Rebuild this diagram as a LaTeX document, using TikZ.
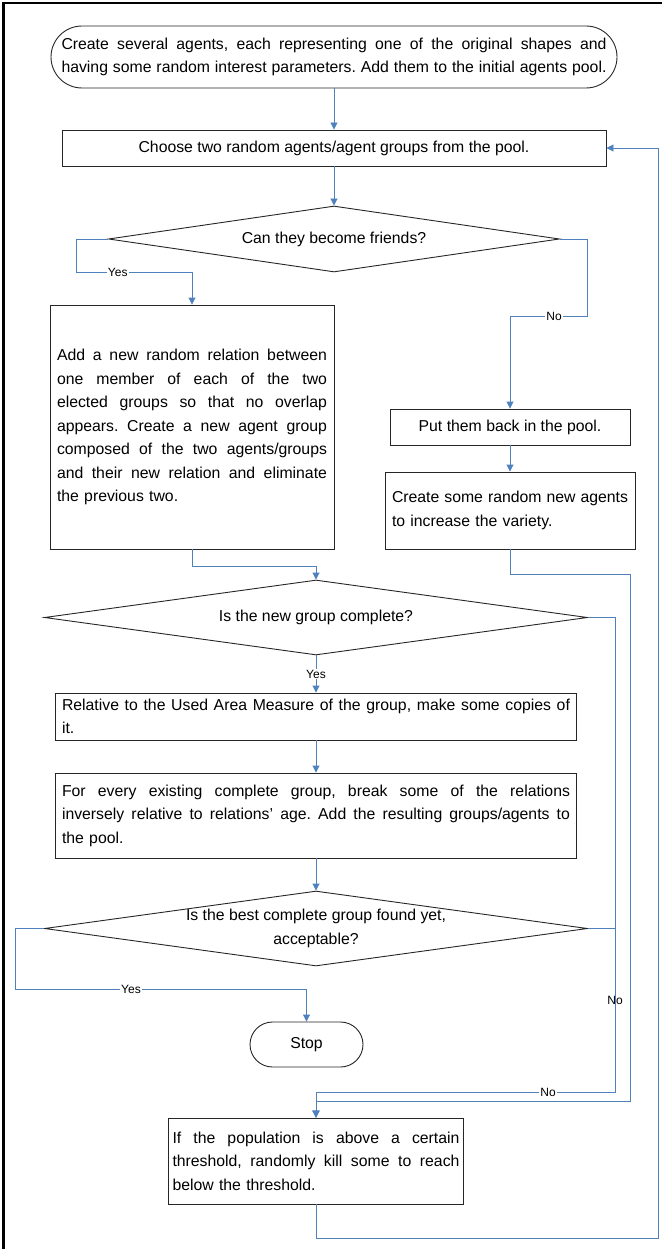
\documentclass[tikz,border=0pt]{standalone}
\usepackage{fontspec}
\setmainfont{Liberation Sans}
\usetikzlibrary{shapes.geometric,arrows.meta}
\frenchspacing
\definecolor{flow}{RGB}{79,129,189}
\definecolor{edge}{RGB}{38,38,38}
\newcommand\jline[2]{\makebox[#1][s]{\spaceskip=0pt\xspaceskip=0pt #2}}
\tikzset{
  base/.style={font=\fontsize{15.8}{23.5}\selectfont, text=black},
  procbox/.style={base, draw=edge, line width=0.9pt, rectangle, inner sep=0pt, align=left},
  centbox/.style={base, draw=edge, line width=0.9pt, rectangle, inner sep=0pt, align=center},
  decbox/.style={draw=edge, line width=0.9pt, diamond, inner sep=0pt},
  dectext/.style={base, align=center, inner sep=0pt},
  conn/.style={draw=flow, line width=0.9pt, -{Triangle[length=7pt,width=7pt]}},
  lbl/.style={font=\fontsize{12}{12}\selectfont, fill=white, inner sep=1pt, text=black},
}
\begin{document}
\begin{tikzpicture}[x=1pt,y=-1pt]
\useasboundingbox (0,0) rectangle (661,1249);
% outer frame
\draw[black, line width=2.5pt] (3.5,1252) -- (3.5,3) -- (664,3);

% nodes
\node[procbox, rounded corners=31pt, minimum width=566pt, minimum height=62pt, text width=545pt] (start) at (334,57)
  {\noindent\jline{545pt}{Create several agents, each representing one of the original shapes and}\\
   \jline{545pt}{having some random interest parameters. Add them to the initial agents pool.}};
\node[centbox, minimum width=544pt, minimum height=36pt] (choose) at (334,148)
  {Choose two random agents/agent groups from the pool.};
\node[decbox, minimum width=451pt, minimum height=66pt] (d1) at (334,239) {};
\node[dectext] (d1t) at (d1.center) {Can they become friends?};
\node[procbox, minimum width=284pt, minimum height=244pt, text width=270pt] (add) at (192,427)
  {\noindent\jline{270pt}{Add a new random relation between}\\
   \jline{270pt}{one member of each of the two}\\
   \jline{270pt}{elected groups so that no overlap}\\
   \jline{270pt}{appears. Create a new agent group}\\
   \jline{270pt}{composed of the two agents/groups}\\
   \jline{270pt}{and their new relation and eliminate}\\
   the previous two.};
\node[centbox, minimum width=240pt, minimum height=36pt] (put) at (510,427)
  {Put them back in the pool.};
\node[procbox, minimum width=250pt, minimum height=77pt, text width=236pt] (create) at (510,510.5)
  {\noindent\jline{236pt}{Create some random new agents}\\
   to increase the variety.};
\node[decbox, minimum width=543pt, minimum height=75pt] (d2) at (316,617.5) {};
\node[dectext] (d2t) at (d2.center) {Is the new group complete?};
\node[procbox, minimum width=521pt, minimum height=47pt, text width=508pt] (rel) at (316,716.5)
  {\noindent\jline{508pt}{Relative to the Used Area Measure of the group, make some copies of}\\
   it.};
\node[procbox, minimum width=521pt, minimum height=85pt, text width=508pt] (fr) at (316,815.5)
  {\noindent\jline{508pt}{For every existing complete group, break some of the relations}\\
   \jline{508pt}{inversely relative to relations’ age. Add the resulting groups/agents to}\\
   the pool.};
\node[decbox, minimum width=543pt, minimum height=75pt] (d3) at (316,928.5) {};
\node[dectext] (d3t) at (d3.center) {Is the best complete group found yet,\\acceptable?};
\node[centbox, rounded corners=22.5pt, minimum width=113pt, minimum height=45pt] (stop) at (306.5,1044.5) {Stop};
\node[procbox, minimum width=295pt, minimum height=86pt, text width=287pt] (kill) at (316,1161)
  {\noindent\jline{287pt}{If the population is above a certain}\\
   \jline{287pt}{threshold, randomly kill some to reach}\\
   below the threshold.};

% bend points
\coordinate (c1) at (76,272);
\coordinate (c4) at (587,316);
\coordinate (c6) at (316,566);
\coordinate (c10) at (15,989);
\coordinate (c11) at (615,1092);
\coordinate (c13a) at (630,574);
\coordinate (c13b) at (630,1101);
\coordinate (c14) at (658,1238);

% connectors
\draw[conn] (start.south) -- (choose.north);
\draw[conn] (choose.south) -- (d1.north);
\draw[conn] (d1.west) -| (c1) -| node[lbl, pos=0.18] {Yes} (add.north);
\draw[conn] (d1.east) -| (c4) -| node[lbl, pos=0.214] {No} (put.north);
\draw[conn] (put.south) -- (create.north);
\draw[conn] (add.south) |- (c6) -- (d2.north);
\draw[conn] (d2.south) -- node[lbl, pos=0.5] {Yes} (rel.north);
\draw[conn] (rel.south) -- (fr.north);
\draw[conn] (fr.south) -- (d3.north);
\draw[conn] (d3.west) -| (c10) -| node[lbl, pos=0.199] {Yes} (stop.north);
\draw[conn] (d2.east) -| node[lbl, pos=0.904] {No} (c11) -| (kill.north);
\draw[conn] (d3.east) -| (c11) -| node[lbl, pos=0.112] {No} (kill.north);
\draw[conn] (create.south) |- (c13a) -- (c13b) -| (kill.north);
\draw[conn] (kill.south) |- (c14) |- (choose.east);
\end{tikzpicture}
\end{document}
